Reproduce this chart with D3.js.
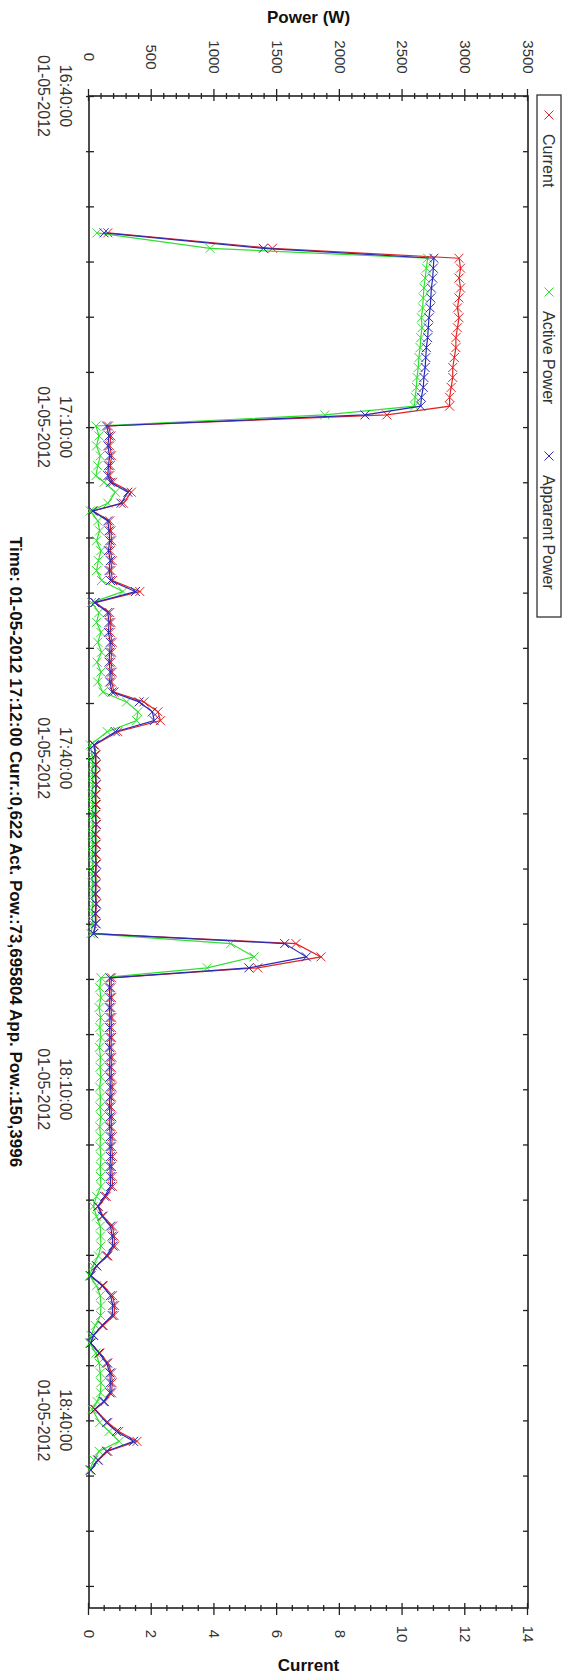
<!DOCTYPE html>
<html>
<head>
<meta charset="utf-8">
<script src="https://cdn.jsdelivr.net/npm/d3@7"></script>
<style>
  body { margin: 0; background: #fff; }
  svg { display: block; font-family: "Liberation Sans", Arial, sans-serif; }
</style>
</head>
<body>
<svg id="chart" width="565" height="1677"></svg>
<script>
// readings (one sample roughly every 54 s)
const times = [
  "16:52:24","16:53:48","16:54:42","16:55:36","16:56:30","16:57:24","16:58:18","16:59:12",
  "17:00:06","17:01:00","17:01:54","17:02:48","17:03:42","17:04:36","17:05:30","17:06:24",
  "17:07:18","17:08:06","17:08:54","17:09:54","17:10:48","17:11:42","17:12:36","17:13:30",
  "17:14:24","17:15:00","17:15:54","17:16:54","17:17:36","17:18:30","17:19:24","17:20:18",
  "17:21:12","17:22:06","17:23:00","17:23:54","17:24:54","17:25:54","17:26:48","17:27:42",
  "17:28:36","17:29:30","17:30:24","17:31:18","17:32:12","17:33:06","17:34:00","17:34:54",
  "17:35:48","17:36:36","17:37:36","17:38:48","17:39:42","17:40:36","17:41:30","17:42:24",
  "17:43:18","17:44:12","17:45:06","17:46:00","17:46:54","17:47:48","17:48:42","17:49:36",
  "17:50:30","17:51:24","17:52:18","17:53:12","17:54:06","17:55:00","17:55:54","17:56:48",
  "17:58:00","17:59:00","17:59:54","18:00:48","18:01:42","18:02:36","18:03:30","18:04:24",
  "18:05:18","18:06:12","18:07:06","18:08:00","18:08:54","18:09:48","18:10:42","18:11:36",
  "18:12:30","18:13:24","18:14:18","18:15:12","18:16:06","18:17:00","18:17:54","18:18:48",
  "18:19:42","18:20:36","18:21:30","18:22:24","18:23:18","18:24:12","18:25:06","18:26:00",
  "18:26:54","18:27:48","18:28:42","18:29:36","18:30:30","18:31:24","18:32:18","18:33:00",
  "18:33:54","18:34:48","18:35:42","18:36:36","18:37:30","18:38:18","18:39:00","18:40:12",
  "18:41:00","18:41:54","18:42:48","18:43:36","18:44:30"
];

const current = [
  0.60, 5.85, 11.80, 11.85, 11.80, 11.85, 11.80, 11.75,
  11.80, 11.75, 11.70, 11.70, 11.65, 11.60, 11.60, 11.55,
  11.50, 11.50, 9.50, 0.62, 0.70, 0.66, 0.72, 0.68,
  0.66, 0.75, 1.35, 1.10, 0.12, 0.66, 0.70, 0.72,
  0.68, 0.74, 0.70, 0.75, 1.62, 0.20, 0.66, 0.70,
  0.68, 0.74, 0.72, 0.70, 0.74, 0.72, 0.80, 1.75,
  2.20, 2.28, 0.92, 0.18, 0.22, 0.23, 0.22, 0.24,
  0.22, 0.23, 0.22, 0.24, 0.22, 0.23, 0.22, 0.24,
  0.22, 0.23, 0.22, 0.24, 0.22, 0.23, 0.15, 6.60,
  7.40, 5.38, 0.72, 0.70, 0.72, 0.70, 0.73, 0.71,
  0.72, 0.70, 0.73, 0.71, 0.72, 0.74, 0.72, 0.70,
  0.73, 0.71, 0.74, 0.72, 0.75, 0.72, 0.74, 0.75,
  0.55, 0.30, 0.45, 0.75, 0.80, 0.82, 0.60, 0.25,
  0.05, 0.45, 0.75, 0.82, 0.80, 0.45, 0.15, 0.05,
  0.35, 0.60, 0.72, 0.74, 0.72, 0.50, 0.20, 0.60,
  0.95, 1.53, 0.60, 0.30, 0.05
];

const activePower = [
  64, 965, 2700, 2690, 2680, 2670, 2665, 2660,
  2650, 2655, 2645, 2640, 2630, 2625, 2615, 2610,
  2600, 2595, 1880, 55, 80, 60, 90, 70,
  55, 120, 210, 150, 10, 70, 85, 60,
  95, 75, 60, 100, 270, 20, 80, 60,
  95, 70, 100, 65, 95, 70, 110, 300,
  390, 380, 145, 10, 25, 30, 28, 30,
  25, 30, 28, 32, 26, 30, 28, 30,
  25, 30, 28, 30, 26, 30, 15, 1130,
  1316, 943, 96, 85, 95, 80, 92, 86,
  95, 82, 92, 88, 95, 85, 92, 88,
  95, 85, 92, 88, 95, 90, 92, 95,
  60, 35, 60, 90, 92, 95, 75, 30,
  5, 60, 90, 95, 92, 50, 15, 5,
  55, 80, 90, 95, 92, 65, 25, 85,
  160, 240, 80, 40, 5
];

const apparentPower = [
  120, 1390, 2750, 2745, 2740, 2730, 2725, 2720,
  2710, 2705, 2700, 2690, 2685, 2680, 2670, 2665,
  2650, 2645, 2200, 140, 160, 150, 165, 155,
  150, 172, 310, 255, 30, 150, 160, 165,
  155, 170, 160, 172, 370, 45, 150, 160,
  155, 170, 165, 160, 170, 165, 185, 400,
  505, 520, 210, 40, 50, 52, 50, 55,
  50, 52, 50, 55, 50, 52, 50, 55,
  50, 52, 50, 55, 50, 52, 35, 1560,
  1733, 1275, 167, 162, 167, 162, 168, 164,
  167, 162, 168, 164, 167, 170, 167, 162,
  168, 164, 170, 167, 172, 167, 170, 172,
  125, 70, 105, 172, 185, 190, 140, 60,
  15, 105, 172, 190, 185, 105, 35, 15,
  80, 140, 167, 170, 167, 115, 45, 140,
  220, 355, 140, 70, 15
];

const powerTicks = [0, 500, 1000, 1500, 2000, 2500, 3000, 3500];
const currentTicks = [0, 2, 4, 6, 8, 10, 12, 14];
const timeLabels = ["16:40:00", "17:10:00", "17:40:00", "18:10:00", "18:40:00"];
const dateLabel = "01-05-2012";
const legendNames = ["Current", "Active Power", "Apparent Power"];
const infoText = "Time: 01-05-2012 17:12:00 Curr.:0,622 Act. Pow.:73,695804 App. Pow.:150,3996";

const parseTime = d3.timeParse("%H:%M:%S");

const svg = d3.select("#chart");
// the chart is drawn landscape and turned a quarter clockwise
const g = svg.append("g").attr("transform", "translate(565,0) rotate(90)");

const x = d3.scaleTime()
  .domain([parseTime("16:40:00"), parseTime("18:57:00")])
  .range([96, 1608]);
const yPow = d3.scaleLinear().domain([0, 3500]).range([476, 37]);
const yCur = d3.scaleLinear().domain([0, 14]).range([476, 37]);

const axisColor = "#222";

// time ticks, both sides
const xAxis = g.append("g").attr("transform", "translate(0,476)")
  .call(d3.axisBottom(x).ticks(d3.timeMinute.every(5)).tickSize(3).tickFormat(""));
xAxis.selectAll(".tick line").attr("y1", -5);
xAxis.select(".domain").remove();

const xTop = g.append("g").attr("transform", "translate(0,37)")
  .call(d3.axisTop(x).ticks(d3.timeMinute.every(5)).tickSize(-5).tickFormat(""));
xTop.select(".domain").remove();

// power axis
const powAxis = g.append("g").attr("transform", "translate(96,0)")
  .call(d3.axisLeft(yPow).tickValues(d3.range(0, 3501, 100)).tickFormat(""));
powAxis.select(".domain").remove();
powAxis.selectAll(".tick line")
  .attr("x2", d => d % 500 === 0 ? -7 : -3)
  .attr("x1", d => d % 500 === 0 ? 5 : 3);

// current axis
const curAxis = g.append("g").attr("transform", "translate(1608,0)")
  .call(d3.axisRight(yCur).tickValues(d3.range(0, 14.01, 0.5)).tickFormat(""));
curAxis.select(".domain").remove();
curAxis.selectAll(".tick line")
  .attr("x2", d => d % 2 === 0 ? 7 : 3)
  .attr("x1", d => d % 2 === 0 ? -5 : -3);

g.selectAll(".tick line").attr("stroke", axisColor).attr("stroke-width", 1.3);

// frame
g.append("rect")
  .attr("x", 96).attr("y", 37).attr("width", 1512).attr("height", 439)
  .attr("fill", "none").attr("stroke", axisColor).attr("stroke-width", 1.6);

// tick labels
g.selectAll(".pow-label").data(powerTicks).join("text")
  .attr("class", "pow-label")
  .attr("x", 57).attr("y", d => yPow(d)).attr("dy", "0.35em")
  .attr("text-anchor", "middle").attr("font-size", 15).attr("fill", "#333")
  .text(d => d);

g.selectAll(".cur-label").data(currentTicks).join("text")
  .attr("class", "cur-label")
  .attr("x", 1634).attr("y", d => yCur(d)).attr("dy", "0.35em")
  .attr("text-anchor", "middle").attr("font-size", 15).attr("fill", "#333")
  .text(d => d);

const tl = g.selectAll(".time-label").data(timeLabels).join("g")
  .attr("class", "time-label")
  .attr("transform", d => `translate(${x(parseTime(d))},0)`);
tl.append("text").attr("y", 505).attr("text-anchor", "middle")
  .attr("font-size", 16).attr("fill", "#333").text(d => d);
tl.append("text").attr("y", 527).attr("text-anchor", "middle")
  .attr("font-size", 16).attr("fill", "#333").text(dateLabel);

g.append("text")
  .attr("x", 852).attr("y", 555).attr("text-anchor", "middle")
  .attr("font-size", 17).attr("font-weight", "bold").attr("fill", "#111")
  .text(infoText);

// series
const series = [
  { name: legendNames[0], values: current, y: yCur, color: "#e02424" },
  { name: legendNames[1], values: activePower, y: yPow, color: "#30e030" },
  { name: legendNames[2], values: apparentPower, y: yPow, color: "#2a2ab4" }
];
const cross = "M-4.5,-4.5L4.5,4.5M-4.5,4.5L4.5,-4.5";

series.forEach(s => {
  const pts = times.map((t, i) => ({ t: parseTime(t), v: s.values[i] }));
  const line = d3.line().x(d => x(d.t)).y(d => s.y(d.v));
  g.append("path").datum(pts)
    .attr("d", line).attr("fill", "none")
    .attr("stroke", s.color).attr("stroke-width", 1.2);
  g.append("g").selectAll("path").data(pts).join("path")
    .attr("transform", d => `translate(${x(d.t)},${s.y(d.v)})`)
    .attr("d", cross).attr("fill", "none")
    .attr("stroke", s.color).attr("stroke-width", 1);
});

// legend
const legend = g.append("g");
legend.append("rect")
  .attr("x", 95).attr("y", 4).attr("width", 522).attr("height", 24)
  .attr("fill", "#fff").attr("stroke", "#333").attr("stroke-width", 1.3);
const legendX = [115, 292, 456];
series.forEach((s, i) => {
  legend.append("path")
    .attr("transform", `translate(${legendX[i]},16)`)
    .attr("d", cross).attr("fill", "none").attr("stroke", s.color).attr("stroke-width", 1);
  legend.append("text")
    .attr("x", legendX[i] + 19).attr("y", 16).attr("dy", "0.35em")
    .attr("font-size", 16).attr("fill", "#333").text(s.name);
});

// axis titles, horizontal on the page
svg.append("text").attr("x", 308.5).attr("y", 23).attr("text-anchor", "middle")
  .attr("font-size", 17).attr("font-weight", "bold").attr("fill", "#111").text("Power (W)");
svg.append("text").attr("x", 308.5).attr("y", 1671).attr("text-anchor", "middle")
  .attr("font-size", 17).attr("font-weight", "bold").attr("fill", "#111").text("Current");
</script>
</body>
</html>
